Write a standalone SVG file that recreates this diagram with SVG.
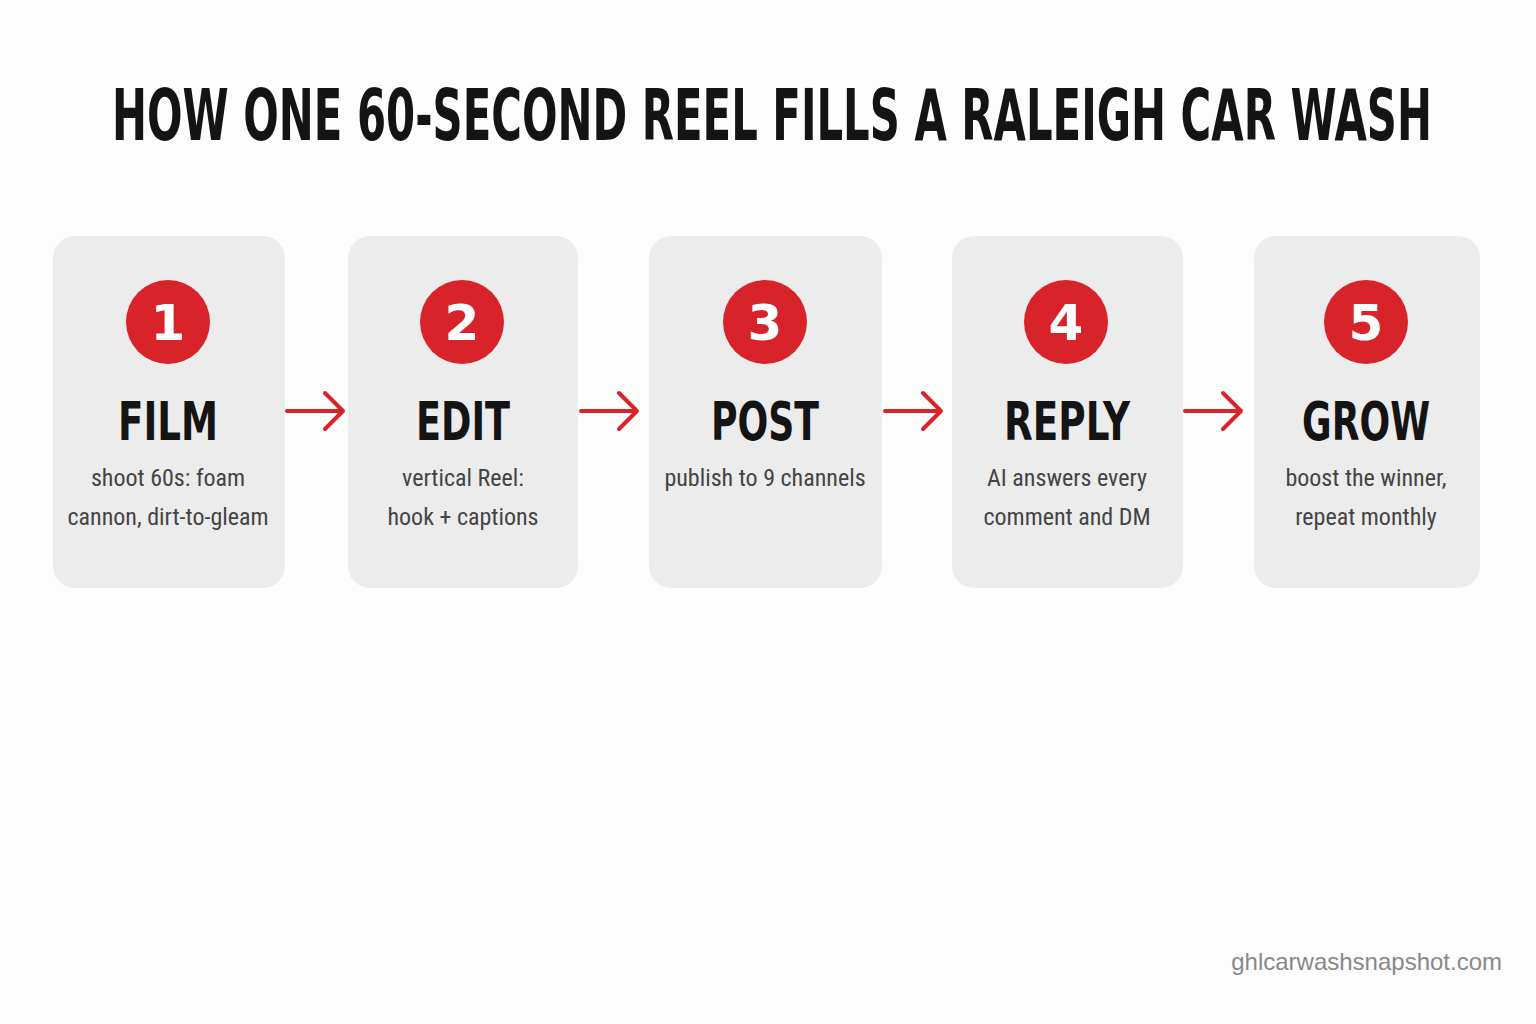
<svg xmlns="http://www.w3.org/2000/svg" width="1536" height="1024" viewBox="0 0 1536 1024">
<style>
.card{fill:#ececec}
.num{fill:#d8232a}
.numt{font-family:"DejaVu Sans","Liberation Sans",sans-serif;font-weight:bold;font-size:50px;fill:#fff;text-anchor:middle}
.head{font-family:"DejaVu Sans Condensed","DejaVu Sans",sans-serif;font-stretch:condensed;font-weight:bold;font-size:54px;fill:#141414;text-anchor:middle}
.body{font-family:"Roboto","Liberation Sans",sans-serif;font-stretch:condensed;font-size:24px;fill:#444;text-anchor:middle}
.arr{stroke:#d8232a;stroke-width:4;fill:none;stroke-linecap:round;stroke-linejoin:round}
</style>
<rect width="1536" height="1024" fill="#fdfdfd"/>
<text x="772" y="140" font-family="'DejaVu Sans Condensed','DejaVu Sans',sans-serif" font-stretch="condensed" font-weight="bold" font-size="72" fill="#141414" text-anchor="middle" textLength="1320" lengthAdjust="spacingAndGlyphs">HOW ONE 60-SECOND REEL FILLS A RALEIGH CAR WASH</text>
<g id="n1"><rect class="card" x="53" y="236" width="232" height="352" rx="22"/><circle class="num" cx="168" cy="322" r="42"/><text class="numt" x="168" y="340">1</text><text class="head" x="168" y="440" textLength="100" lengthAdjust="spacingAndGlyphs">FILM</text><text class="body" x="168" y="486">shoot 60s: foam</text><text class="body" x="168" y="525">cannon, dirt-to-gleam</text></g>
<g id="n2"><rect class="card" x="348" y="236" width="230" height="352" rx="22"/><circle class="num" cx="462" cy="322" r="42"/><text class="numt" x="462" y="340">2</text><text class="head" x="463" y="440" textLength="94" lengthAdjust="spacingAndGlyphs">EDIT</text><text class="body" x="463" y="486">vertical Reel:</text><text class="body" x="463" y="525">hook + captions</text></g>
<g id="n3"><rect class="card" x="649" y="236" width="233" height="352" rx="22"/><circle class="num" cx="765" cy="322" r="42"/><text class="numt" x="765" y="340">3</text><text class="head" x="765" y="440" textLength="108" lengthAdjust="spacingAndGlyphs">POST</text><text class="body" x="765" y="486">publish to 9 channels</text></g>
<g id="n4"><rect class="card" x="952" y="236" width="231" height="352" rx="22"/><circle class="num" cx="1066" cy="322" r="42"/><text class="numt" x="1066" y="340">4</text><text class="head" x="1067" y="440" textLength="126" lengthAdjust="spacingAndGlyphs">REPLY</text><text class="body" x="1067" y="486">AI answers every</text><text class="body" x="1067" y="525">comment and DM</text></g>
<g id="n5"><rect class="card" x="1254" y="236" width="226" height="352" rx="22"/><circle class="num" cx="1366" cy="322" r="42"/><text class="numt" x="1366" y="340">5</text><text class="head" x="1366" y="440" textLength="128" lengthAdjust="spacingAndGlyphs">GROW</text><text class="body" x="1366" y="486">boost the winner,</text><text class="body" x="1366" y="525">repeat monthly</text></g>
<g id="connectors">
<path class="arr" d="M287 411H342M325 393L343 411L325 429"/>
<path class="arr" d="M581 411H636M619 393L637 411L619 429"/>
<path class="arr" d="M885 411H940M923 393L941 411L923 429"/>
<path class="arr" d="M1185 411H1240M1223 393L1241 411L1223 429"/>
</g>
<text x="1502" y="970" font-family="'Liberation Sans',sans-serif" font-size="24" fill="#888" text-anchor="end">ghlcarwashsnapshot.com</text>
</svg>
